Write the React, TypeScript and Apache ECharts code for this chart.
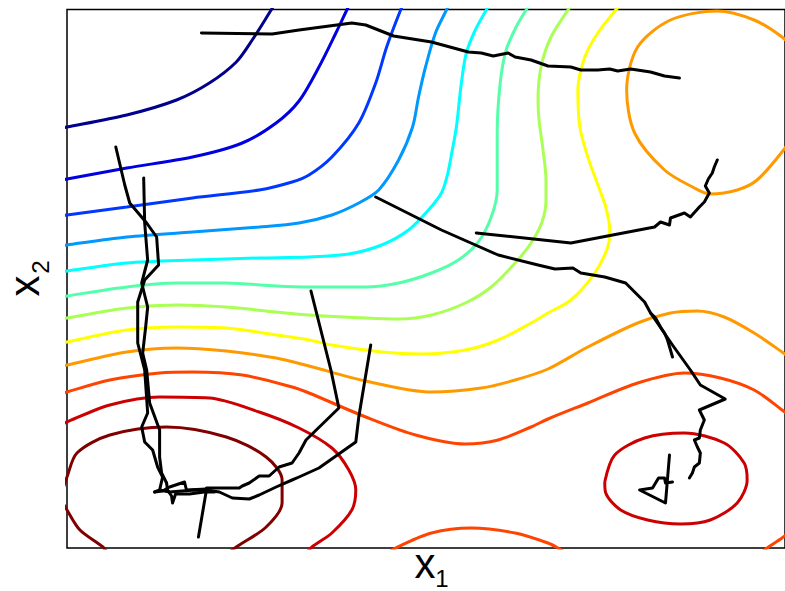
import React, { useEffect, useRef } from "react";
import * as echarts from "echarts";

// x1 runs 67 -> 788 left to right, x2 runs 9.5 -> 548 top to bottom.
const X_RANGE = [67, 788];
const Y_RANGE = [9.5, 548];

// contour levels, low (dark blue) to high (dark red)
const levelColors = [
  "#00008c", "#0000e0", "#0038ff", "#0098ff", "#00ffff", "#55ffaa",
  "#aaff55", "#ffff00", "#ff9900", "#ff4400", "#cc0000", "#800000",
];

const c1 = [[55,129],[67,127],[127,115],[177,100],[210,83],[237,62],[253,40],[272,10],[277,2]];
const c2 = [[55,181],[67,179],[127,168],[193,157],[243,143],[277,123],[300,101],[320,67],[337,33],[348,10],[352,2]];
const c3 = [[55,217],[67,215],[127,207],[193,198],[260,190],[293,182],[310,175],[333,157],[360,123],[377,83],[388,47],[402,10],[406,2]];
const c4 = [[55,247],[67,245],[127,237],[193,232],[260,227],[300,223],[333,215],[360,203],[380,190],[400,160],[414,127],[420,97],[427,67],[437,33],[448,10],[452,2]];
const c5 = [[55,273],[67,271],[127,263],[193,260],[260,258],[310,257],[350,254],[383,245],[410,230],[430,210],[443,193],[449,175],[453,155],[458,127],[463,83],[468,53],[477,30],[488,10],[493,2]];
const c6 = [[55,298],[67,296],[127,287],[177,283],[227,283],[277,286],[310,287],[367,287],[400,283],[433,273],[460,260],[480,242],[493,217],[499,190],[499,160],[499,133],[502,83],[508,50],[518,27],[528,10],[533,2]];
const c7 = [[55,320],[67,318],[127,308],[177,305],[227,307],[277,312],[310,315],[367,318],[400,319],[433,315],[467,303],[493,287],[517,263],[533,243],[544,222],[548,200],[548,180],[545,150],[541,120],[540,100],[543,67],[553,37],[570,10],[576,2]];
const c8 = [[55,345],[67,342],[127,330],[177,327],[227,328],[277,335],[310,340],[333,345],[383,352],[423,354],[467,350],[500,340],[533,323],[550,313],[573,300],[597,273],[610,247],[612,230],[608,207],[602,190],[590,157],[582,127],[580,90],[587,57],[600,33],[618,10],[625,2]];
const c9 = [[55,368],[67,365],[127,352],[177,348],[227,351],[277,358],[310,366],[367,381],[433,392],[483,388],[517,380],[550,369],[590,347],[640,323],[673,313],[700,311],[727,317],[757,333],[785,352],[800,363]];
const c9b = [[800,52],[785,37],[757,20],[720,11],[673,20],[640,47],[629,90],[637,133],[667,170],[697,188],[713,194],[740,190],[760,180],[785,152],[800,130]];
const c10 = [[55,396],[67,392],[110,380],[160,373],[193,372],[243,375],[293,387],[310,393],[367,417],[417,435],[467,444],[500,440],[533,427],[550,419],[590,403],[640,383],[687,373],[723,378],[757,390],[785,410],[800,422]];
const c10b = [[385,556],[397,548],[433,533],[473,528],[517,533],[550,543],[560,548],[570,554]];
const c10c = [[760,556],[770,548],[785,538],[800,526]];
const c11 = [[55,428],[67,422],[110,405],[160,397],[210,398],[260,412],[300,428],[333,448],[350,470],[357,490],[353,510],[333,533],[313,547],[305,556]];
const c11b = [[607,482],[617,455],[647,438],[687,433],[727,443],[747,463],[750,480],[740,503],[713,520],[683,524],[650,520],[623,510],[608,493],[607,482]];
const c12 = [[62,492],[67,477],[77,453],[110,435],[167,427],[227,437],[267,457],[283,480],[283,503],[267,527],[237,547],[225,556]];
const c12b = [[60,498],[67,510],[80,530],[103,547],[110,556]];

const contours: { pts: number[][]; level: number }[] = [
  { pts: c1, level: 0 }, { pts: c2, level: 1 }, { pts: c3, level: 2 },
  { pts: c4, level: 3 }, { pts: c5, level: 4 }, { pts: c6, level: 5 },
  { pts: c7, level: 6 }, { pts: c8, level: 7 }, { pts: c9, level: 8 },
  { pts: c9b, level: 8 }, { pts: c10, level: 9 }, { pts: c10b, level: 9 },
  { pts: c10c, level: 9 }, { pts: c11, level: 10 }, { pts: c11b, level: 10 },
  { pts: c12, level: 11 }, { pts: c12b, level: 11 },
];

// sampler trajectories
const t1 = [[202,33],[273,34],[300,30],[353,23],[367,25],[395,36],[433,42],[470,52],[483,53],[495,56],[510,53],[517,57],[533,60],[550,66],[573,67],[583,70],[600,70],[612,69],[620,71],[633,69],[653,72],[667,76],[682,78]];
const t2 = [[478,233],[573,243],[657,227],[663,222],[672,225],[673,218],[687,213],[693,217],[702,207],[707,202],[712,193],[708,186],[711,179],[715,173],[717,167],[720,160]];
const t3 = [[377,197],[443,230],[500,255],[540,265],[557,269],[575,268],[583,273],[607,277],[628,283],[637,292],[647,302],[653,313],[658,318],[663,327],[667,333],[670,340],[673,350],[675,357]];
const t4 = [[653,313],[675,345],[693,370],[703,385],[728,399],[702,410],[707,420],[703,430],[702,438],[697,440],[700,447],[703,453],[702,463],[697,467],[695,473],[692,478]];
const t5 = [[672,455],[668,503],[642,490],[655,488],[658,483],[661,478],[667,478],[668,483],[675,482]];
const t6a = [[116,147],[125,185],[130,203],[147,223],[157,237],[159,265],[145,280],[138,302],[138,343],[145,370],[148,413],[142,427],[145,442],[153,450],[158,467],[163,477],[160,490],[155,492]];
const t6b = [[144,178],[145,223],[148,260],[142,283],[148,307],[146,327],[143,353],[147,370],[150,403],[160,430],[160,457],[162,473],[167,483]];
const cl1 = [[155,492],[163,491],[170,487],[185,482],[187,490],[207,489]];
const cl2 = [[167,483],[168,490],[172,496],[173,503],[176,494],[190,494],[205,492],[215,492]];
const cl3 = [[160,490],[170,492],[195,490],[207,491]];
const tC = [[207,488],[240,488],[243,486],[250,483],[260,476],[270,476],[280,467],[293,463],[300,453],[307,440],[340,408],[332,370],[312,291]];
const tD = [[372,345],[360,417],[357,442],[320,468],[300,477],[293,480],[277,487],[260,495],[250,499],[233,498],[220,492],[207,490]];
const tE = [[207,490],[199,537]];

const trajectories = [t1, t2, t3, t4, t5, t6a, t6b, cl1, cl2, cl3, tC, tD, tE];

const FAMILY = "'Liberation Sans', Arial, Helvetica, sans-serif";
const BIG = "42px " + FAMILY;
const SMALL = "24px " + FAMILY;

export default function App() {
  const ref = useRef<HTMLDivElement>(null);
  useEffect(() => {
    if (!ref.current) return;
    const chart = echarts.init(ref.current, undefined, { renderer: "svg" });
    const series: any[] = [];
    contours.forEach((c, i) => {
      series.push({
        type: "line",
        name: "level" + i,
        data: c.pts,
        smooth: 0.3,
        symbol: "none",
        clip: true,
        lineStyle: { color: levelColors[c.level], width: 3 },
        silent: true,
        z: 2,
      });
    });
    trajectories.forEach((t, i) => {
      series.push({
        type: "line",
        name: "traj" + i,
        data: t,
        smooth: false,
        symbol: "none",
        clip: true,
        lineStyle: { color: "#000", width: 3, join: "round", cap: "round" },
        silent: true,
        z: 3,
      });
    });
    chart.setOption({
      animation: false,
      backgroundColor: "#fff",
      grid: {
        left: 67,
        right: -3,
        top: 9.5,
        bottom: 43,
        show: true,
        borderColor: "#000",
        borderWidth: 1.5,
        backgroundColor: "transparent",
      },
      xAxis: {
        type: "value",
        min: X_RANGE[0],
        max: X_RANGE[1],
        axisLine: { show: false },
        axisTick: { show: false },
        axisLabel: { show: false },
        splitLine: { show: false },
      },
      yAxis: {
        type: "value",
        inverse: true,
        min: Y_RANGE[0],
        max: Y_RANGE[1],
        axisLine: { show: false },
        axisTick: { show: false },
        axisLabel: { show: false },
        splitLine: { show: false },
      },
      graphic: [
        {
          type: "text",
          x: 425,
          y: 563,
          style: { text: "x", font: BIG, fill: "#000", textAlign: "center", textVerticalAlign: "middle" },
        },
        {
          type: "text",
          x: 442,
          y: 578,
          style: { text: "1", font: SMALL, fill: "#000", textAlign: "center", textVerticalAlign: "middle" },
        },
        {
          type: "group",
          x: 24,
          y: 286,
          rotation: Math.PI / 2,
          children: [
            {
              type: "text",
              x: 0,
              y: 0,
              style: { text: "x", font: BIG, fill: "#000", textAlign: "center", textVerticalAlign: "middle" },
            },
            {
              type: "text",
              x: 19,
              y: 16,
              style: { text: "2", font: SMALL, fill: "#000", textAlign: "center", textVerticalAlign: "middle" },
            },
          ],
        },
      ],
      series,
    });
    return () => chart.dispose();
  }, []);
  return (
    <div
      ref={ref}
      style={{ position: "absolute", left: 0, top: 0, width: 785, height: 591 }}
    />
  );
}
